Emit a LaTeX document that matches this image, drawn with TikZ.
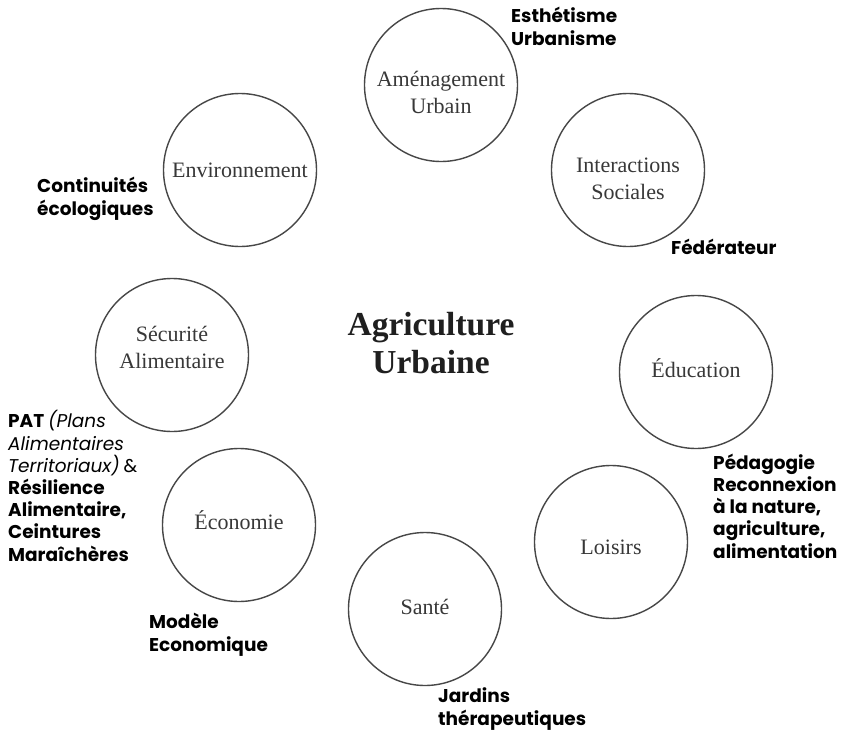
\documentclass[tikz,border=0pt]{standalone}
\usepackage{fontspec}
\setmainfont{Liberation Serif}
\newfontfamily\labfont{Poppins}
\begin{document}
\begin{tikzpicture}[x=1pt,y=-1pt,
  ring/.style={circle, draw=black!72, line width=1.4pt, minimum size=153pt, inner sep=0pt},
  ctext/.style={font=\fontsize{22}{27}\selectfont, text=black!78, align=center, anchor=base, inner sep=0pt},
  lab/.style={font=\labfont\bfseries\fontsize{18.5}{22.2}\selectfont, align=left, anchor=base west, inner sep=0pt},
  title/.style={font=\bfseries\fontsize{33.5}{38}\selectfont, text=black!88, align=center, anchor=base, inner sep=0pt},
]
\useasboundingbox[fill=white] (0,0) rectangle (844,731);
% circles
\node[ring] (amen) at (441,85) {};
\node[ring] (inter) at (628,170) {};
\node[ring] (educ) at (696,372) {};
\node[ring] (lois) at (611,542) {};
\node[ring] (sante) at (425,609) {};
\node[ring] (eco) at (239,525) {};
\node[ring] (secu) at (172,355) {};
\node[ring] (env) at (240,170) {};
% circle texts (anchor = baseline of last line)
\node[ctext] (tamen) at (441,113) {Aménagement\\Urbain};
\node[ctext] (tinter) at (628,199) {Interactions\\Sociales};
\node[ctext] (teduc) at (696,377) {Éducation};
\node[ctext] (tlois) at (611,554) {Loisirs};
\node[ctext] (tsante) at (425,614) {Santé};
\node[ctext] (teco) at (239,529) {Économie};
\node[ctext] (tsecu) at (172,368) {Sécurité\\Alimentaire};
\node[ctext] (tenv) at (240,177) {Environnement};
% title
\node[title] (agri) at (431,373) {Agriculture\\Urbaine};
% labels
\node[lab] (lamen) at (511,45) {Esthétisme\\Urbanisme};
\node[lab] (lenv) at (37,215) {Continuités\\écologiques};
\node[lab] (linter) at (671,254) {Fédérateur};
\node[lab] (lsecu) at (8,561) {PAT {\mdseries\itshape (Plans}\\{\mdseries\itshape Alimentaires}\\{\mdseries\itshape Territoriaux)} {\mdseries\&}\\Résilience\\Alimentaire,\\Ceintures\\Maraîchères};
\node[lab] (leduc) at (713,558) {Pédagogie\\Reconnexion\\à la nature,\\agriculture,\\alimentation};
\node[lab] (leco) at (149,651) {Modèle\\Economique};
\node[lab] (lsante) at (438,725) {Jardins\\thérapeutiques};
\end{tikzpicture}
\end{document}
